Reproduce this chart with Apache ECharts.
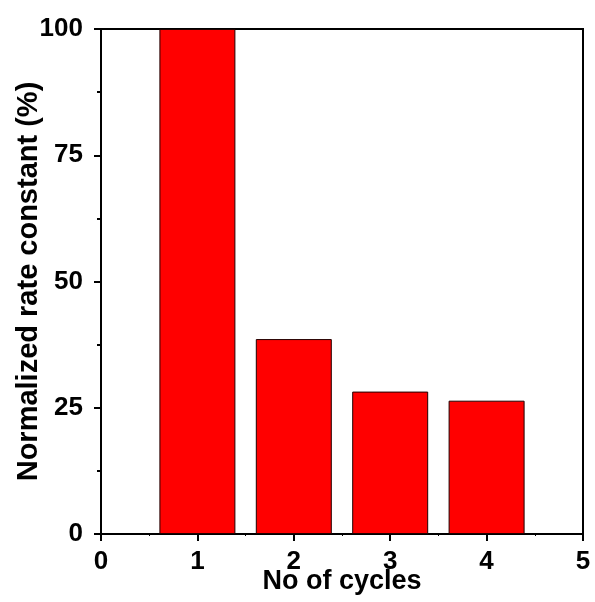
<!DOCTYPE html>
<html>
<head>
<meta charset="utf-8">
<script src="https://cdn.jsdelivr.net/npm/echarts@6/dist/echarts.min.js"></script>
<style>html,body{margin:0;padding:0;background:#fff;}#c{width:595px;height:602px;}</style>
</head>
<body>
<div id="c"></div>
<script>
var cycles = [1, 2, 3, 4];
var rateValues = [100, 38.6, 28.2, 26.4];
var xTicks = [0, 1, 2, 3, 4, 5];
var yTicks = [0, 25, 50, 75, 100];

var FONT = '"Liberation Sans", Arial, sans-serif';
var chart = echarts.init(document.getElementById('c'), null, {renderer: 'canvas'});
var gridLeft = 101, gridRight = 12, gridWidth = 595 - gridLeft - gridRight;
var unitPx = gridWidth / (xTicks[xTicks.length - 1] - xTicks[0]);

chart.setOption({
  animation: false,
  backgroundColor: '#fff',
  grid: {left: gridLeft, right: gridRight, top: 29, bottom: 68, show: true, borderColor: '#000', borderWidth: 2,
         containLabel: false, outerBoundsMode: 'none'},
  xAxis: {
    type: 'value', min: xTicks[0], max: xTicks[xTicks.length - 1], interval: 1,
    name: 'No of cycles', nameLocation: 'middle', nameGap: 34, nameMoveOverlap: false,
    nameTextStyle: {fontFamily: FONT, fontWeight: 'bold', fontSize: 27, color: '#000'},
    axisLine: {show: true, onZero: false, lineStyle: {color: '#000', width: 2}},
    axisTick: {show: true, inside: false, length: 7, lineStyle: {color: '#000', width: 2}},
    minorTick: {show: true, splitNumber: 2, length: 2, lineStyle: {color: '#000', width: 1}},
    splitLine: {show: false},
    axisLabel: {margin: 15, fontFamily: FONT, fontWeight: 'bold', fontSize: 26, color: '#000'}
  },
  yAxis: {
    type: 'value', min: yTicks[0], max: yTicks[yTicks.length - 1], interval: 25,
    name: 'Normalized rate constant (%)', nameLocation: 'middle', nameGap: 58, nameMoveOverlap: false,
    nameTextStyle: {fontFamily: FONT, fontWeight: 'bold', fontSize: 29, color: '#000'},
    axisLine: {show: true, lineStyle: {color: '#000', width: 2}},
    axisTick: {show: true, inside: false, length: 7, lineStyle: {color: '#000', width: 2}},
    minorTick: {show: true, splitNumber: 2, length: 4, lineStyle: {color: '#000', width: 2}},
    splitLine: {show: false},
    axisLabel: {margin: 18, fontFamily: FONT, fontWeight: 'bold', fontSize: 26, color: '#000'}
  },
  series: [{
    type: 'bar',
    data: cycles.map(function (c, i) { return [c, rateValues[i]]; }),
    barWidth: Math.round(unitPx * 0.79),
    itemStyle: {color: '#ff0000', borderColor: '#200000', borderWidth: 1}
  }]
});
</script>
</body>
</html>
